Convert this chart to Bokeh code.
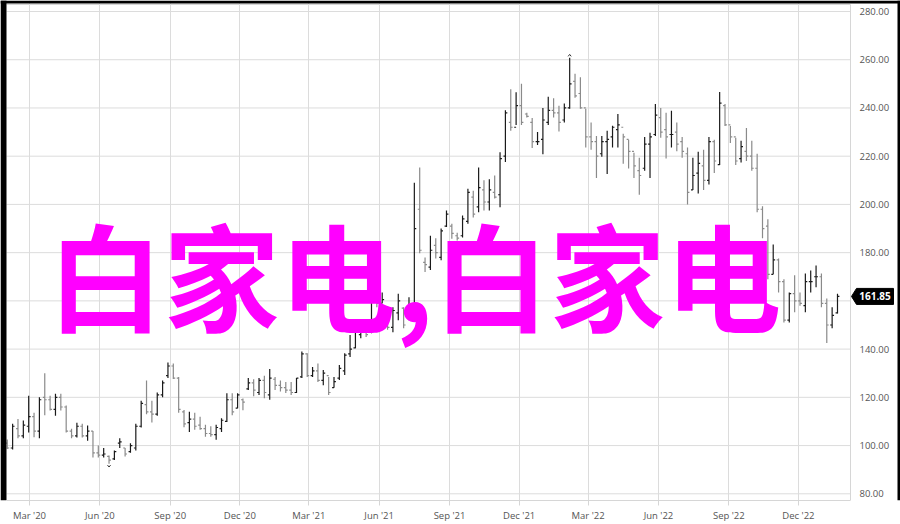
import pandas as pd
from bokeh.plotting import figure
from bokeh.models import (Range1d, FixedTicker, Label, ColumnDataSource)
from bokeh.embed import file_html
from bokeh.resources import INLINE
from bokeh.core.properties import value

# ---------------- data (weekly OHLC) ----------------
first_week = "2020-02-01"
highs = [102.5, 109, 111, 110.4, 120.7, 113.6, 120, 130, 120.7, 121.5,
         121.5, 116.6, 107, 109.5, 109, 108.3, 106, 100, 99, 95.9,
         98, 103, 99, 101, 109, 118.6, 127, 118.6, 122, 127,
         134.4, 134, 128.4, 114.8, 114, 113.6, 112, 108.6, 108, 108.6,
         111.3, 121.7, 121.7, 121.7, 119.5, 128, 127.5, 128, 129, 131.8,
         128.4, 127, 126.4, 126.4, 128, 139, 138.3, 132.6, 134, 131.3,
         128.4, 128.4, 133.4, 138.3, 145.8, 148.7, 150.7, 152, 161, 161.5,
         163.5, 156, 157.4, 163, 157.4, 161.5, 209, 215.3, 178, 187,
         186, 190, 197.5, 192, 188.3, 195.4, 206.5, 205.7, 215.3, 210,
         210.4, 212, 221.6, 239, 247.8, 246.5, 250, 238, 235.8, 230,
         240, 244.6, 244, 240.9, 241.8, 260.8, 254.2, 252.7, 239.7, 234,
         228.4, 228.4, 230.5, 232.6, 237.5, 229.3, 226.8, 221.4, 219.3, 228,
         229.7, 241.6, 240, 238, 238.8, 234, 228, 223.6, 219.4, 221.8,
         222.7, 228, 226.8, 246.6, 241.6, 232.5, 227.6, 226.4, 231.7, 226.4,
         221, 199.2, 193.8, 183.4, 177.6, 169, 163.5, 170.6, 163.5, 171.4,
         172.6, 174.7, 171.4, 161, 157.4, 163]
lows = [98.6, 98.4, 103, 103, 105.4, 103.4, 103, 112.6, 114.5, 112.4,
        114.5, 105.4, 103, 103.3, 103.3, 102, 95, 95, 95, 92.5,
        94, 99, 95.5, 97, 98, 107.5, 113, 109.6, 112.4, 120,
        128, 127.6, 113.6, 107.6, 105.6, 106.6, 106.6, 103.7, 103.7, 102.4,
        105.6, 109.8, 112.6, 115.5, 114.6, 123, 120.5, 121, 119.6, 119,
        123, 122.4, 121.8, 121, 121.8, 128, 128.4, 128.4, 126.4, 125,
        121, 124, 127.2, 129.3, 136.7, 140.4, 144.5, 145, 146.6, 157.4,
        159, 148, 147, 152, 148.7, 152, 156, 179.7, 172, 172.8,
        177.6, 176.8, 190.6, 185.8, 185, 186.3, 192, 194.6, 196.7, 197.5,
        197.5, 202.5, 198.8, 217.6, 230.5, 232.9, 232.9, 236, 223.4, 224.6,
        220.8, 232.9, 236, 230.2, 234, 239.7, 244.2, 239.7, 223.6, 222.7,
        211, 219.8, 212.6, 223.6, 223.6, 216.9, 214.9, 211, 204, 214,
        211, 228.4, 227.6, 219, 223.6, 222, 219.4, 200, 206, 204.5,
        206, 208.3, 213, 216.3, 232.5, 225.5, 216.3, 217.4, 218, 214,
        196.7, 186, 169, 171, 163.5, 151, 151, 155.3, 158, 155.3,
        163.5, 165.6, 157.4, 142.5, 148.7, 154.8]
opens = [101, 99, 107, 104, 108, 112, 106, 120, 119, 115,
         120, 116, 106, 104, 108, 104, 106, 97, 96, 95.5,
         94.5, 101, 99, 97.5, 99, 108, 117, 114, 113, 121,
         129, 133, 128, 114, 109.5, 111, 108.5, 107, 105, 104.5,
         107, 110, 119, 115.5, 119, 123.5, 126, 122, 127, 121,
         127.5, 125, 124, 123, 122, 128.5, 138, 129, 131, 127,
         129, 124, 128, 131, 138, 140.5, 146, 150, 147, 160,
         159, 155, 149, 155, 157, 153, 158, 198, 176, 174,
         183, 178, 191, 191, 187, 187, 193, 203, 199, 206,
         201, 205, 204, 220, 234, 232, 241, 237.5, 234, 226,
         227, 234, 239, 238, 235, 240, 251, 246, 240, 228,
         226, 221, 226, 228, 231, 232, 227, 222, 214, 215,
         225, 229, 236, 231, 229, 230, 226, 221, 206, 213,
         216, 210, 226, 216.5, 241, 233, 228, 219, 222, 220,
         215, 198, 191, 171, 177, 168, 152, 163, 160, 158,
         168, 170, 170, 159, 150, 155]
closes = [99, 108, 104, 108.5, 112, 106, 119, 119, 115, 120,
          116, 106, 104, 108, 104, 106, 97, 96, 96.5, 94,
          97.5, 101.5, 96.5, 100, 108, 117.5, 114, 113, 121, 126,
          133, 128, 115, 109, 111, 108, 107, 105, 104.5, 107.5,
          110.5, 119, 114, 121, 118, 126, 123, 127, 122, 128,
          125, 124, 123, 122, 128, 138, 129, 131, 127, 130,
          122, 126.5, 132, 137.5, 140, 147, 150, 146, 160, 159,
          160.5, 149, 156, 160, 150, 158, 190, 181, 175, 181,
          180, 189, 196, 188, 186, 194, 205, 196, 207, 201,
          206, 203, 219, 238, 232, 241, 234, 236.5, 226, 226,
          235, 239, 238, 234, 240, 250, 245, 240, 228, 226,
          220, 226, 227, 232, 233, 228, 222, 216, 212, 225,
          228, 237, 230, 228, 229, 225, 222, 205, 212, 217,
          210, 226, 218, 242, 233, 228, 218, 224, 220, 215,
          198, 190, 171, 177, 168, 152, 163, 160, 159, 168,
          168, 170, 159, 150, 154, 161.85]

x_tick_dates = ["2020-03-01", "2020-06-01", "2020-09-01", "2020-12-01",
                "2021-03-01", "2021-06-01", "2021-09-01", "2021-12-01",
                "2022-03-01", "2022-06-01", "2022-09-01", "2022-12-01"]
x_tick_labels = ["Mar '20", "Jun '20", "Sep '20", "Dec '20",
                 "Mar '21", "Jun '21", "Sep '21", "Dec '21",
                 "Mar '22", "Jun '22", "Sep '22", "Dec '22"]
y_ticks = [80, 100, 120, 140, 160, 180, 200, 220, 240, 260, 280]
last_price = 161.85
overlay_text = "白家电,白家电"

# ---------------- build ----------------
EPOCH = pd.Timestamp("1970-01-01")
DAY = 86400000.0


def ms(d):
    return (pd.Timestamp(d) - EPOCH).total_seconds() * 1000.0


dates = pd.date_range(first_week, periods=len(highs), freq="7D")
xs = [ms(d) for d in dates]
colors = ["#1a1a1a" if c >= o else "#8a8a8a" for o, c in zip(opens, closes)]
src = ColumnDataSource(dict(
    x=xs, xl=[x - 2.5 * DAY for x in xs], xr=[x + 2.5 * DAY for x in xs],
    high=highs, low=lows, open=opens, close=closes, color=colors))

W, H = 900, 524
FRAME_BOTTOM = 500                 # pixel row of the price-area bottom
x_start = ms("2020-01-31")         # date at the left edge of price area (px 6)
x_vis_end = ms("2023-02-07")       # date at the right edge of price area (px 850)
mpp = (x_vis_end - x_start) / (850 - 6)
XR0 = x_start - 6 * mpp
XR1 = x_start + (W - 6) * mpp
Y_top, Y_bot = 282.9, 77.22        # price at px 4 and px 500
upp = (Y_top - Y_bot) / (FRAME_BOTTOM - 4)
YR1 = Y_top + 4 * upp

p = figure(width=W, height=H, x_axis_type="datetime",
           y_axis_location=None, output_backend="svg", toolbar_location=None,
           x_range=Range1d(XR0, XR1), y_range=Range1d(Y_bot, YR1),
           min_border_left=0, min_border_top=0, min_border_right=0,
           min_border_bottom=H - FRAME_BOTTOM)
p.background_fill_color = "white"
p.border_fill_color = "white"
p.outline_line_color = None

tick_ms = [int(ms(d)) for d in x_tick_dates]
p.xaxis.ticker = FixedTicker(ticks=tick_ms)
p.xaxis.major_label_overrides = {t: l for t, l in zip(tick_ms, x_tick_labels)}
p.xaxis.bounds = (x_start, x_vis_end)
p.xaxis.axis_line_color = "#d6d6d6"
p.xaxis.major_tick_line_color = "#d6d6d6"
p.xaxis.minor_tick_line_color = None
p.xaxis.major_tick_in = 0
p.xaxis.major_tick_out = 5
p.xaxis.major_label_standoff = 3
p.xaxis.major_label_text_font = "Open Sans"
p.xaxis.major_label_text_font_size = "9.5px"
p.xaxis.major_label_text_color = "#555555"

p.xgrid.grid_line_color = "#dcdcdc"
p.xgrid.bounds = (x_start, x_vis_end)
p.ygrid.grid_line_color = None

# horizontal grid lines across the price area only, plus frame edges
p.segment(x0=[x_start] * len(y_ticks), y0=y_ticks, x1=[x_vis_end] * len(y_ticks), y1=y_ticks,
          color="#dcdcdc", line_width=1, level="underlay")
p.segment(x0=[x_vis_end], y0=[Y_bot], x1=[x_vis_end], y1=[Y_top],
          color="#d6d6d6", line_width=1, level="underlay")
p.segment(x0=[x_start], y0=[Y_top], x1=[x_vis_end], y1=[Y_top],
          color="#d6d6d6", line_width=1, level="underlay")

# price scale labels (right column)
p.text(x=[x_vis_end + 9 * mpp] * len(y_ticks), y=y_ticks,
       text=[f"{v:.2f}" for v in y_ticks], text_align="left", text_baseline="middle",
       text_font=value("Open Sans"), text_font_size="9.5px", text_color="#555555")

# OHLC bars
p.segment(x0="x", y0="low", x1="x", y1="high", color="color", line_width=1.2, source=src)
p.segment(x0="xl", y0="open", x1="x", y1="open", color="color", line_width=1.2, source=src)
p.segment(x0="x", y0="close", x1="xr", y1="close", color="color", line_width=1.2, source=src)

# high / low chevron markers
imax = max(range(len(highs)), key=lambda i: highs[i])
imin = min(range(len(lows)), key=lambda i: lows[i])
hx, hy = xs[imax], highs[imax]
lx, ly = xs[imin], lows[imin]
p.line([hx - 2 * DAY, hx, hx + 2 * DAY], [hy + 0.6, hy + 1.4, hy + 0.6], color="#333333", line_width=1)
p.line([lx - 2 * DAY, lx, lx + 2 * DAY], [ly - 0.6, ly - 1.4, ly - 0.6], color="#333333", line_width=1)

# last price tag
tag_x = [x_vis_end + k * mpp for k in (1, 6, 43, 43, 6)]
tag_y = [last_price, last_price + 8 * upp, last_price + 8 * upp,
         last_price - 8 * upp, last_price - 8 * upp]
p.patch(tag_x, tag_y, fill_color="black", line_color="black")
p.text(x=[x_vis_end + 24.5 * mpp], y=[last_price], text=[f"{last_price:.2f}"],
       text_align="center", text_baseline="middle", text_color="white",
       text_font=value("Open Sans"), text_font_style="bold", text_font_size="10px")

# dark frame around the picture (left, top, right edges)
p.quad(left=[XR0, XR0, x_start + 891 * mpp], right=[x_start, XR1, XR1],
       bottom=[Y_bot, YR1 - 3 * upp, Y_bot], top=[YR1, YR1, YR1],
       fill_color="#000000", fill_alpha=1.0, line_color=None)

# big overlay text
p.add_layout(Label(x=ms("2021-07-17"), y=172, text=overlay_text, text_align="center",
                   text_baseline="middle", text_color="#ff00ff",
                   text_font="Noto Sans CJK SC", text_font_style="bold",
                   text_font_size="116px"))

open("out.html", "w").write(file_html(p, INLINE))
